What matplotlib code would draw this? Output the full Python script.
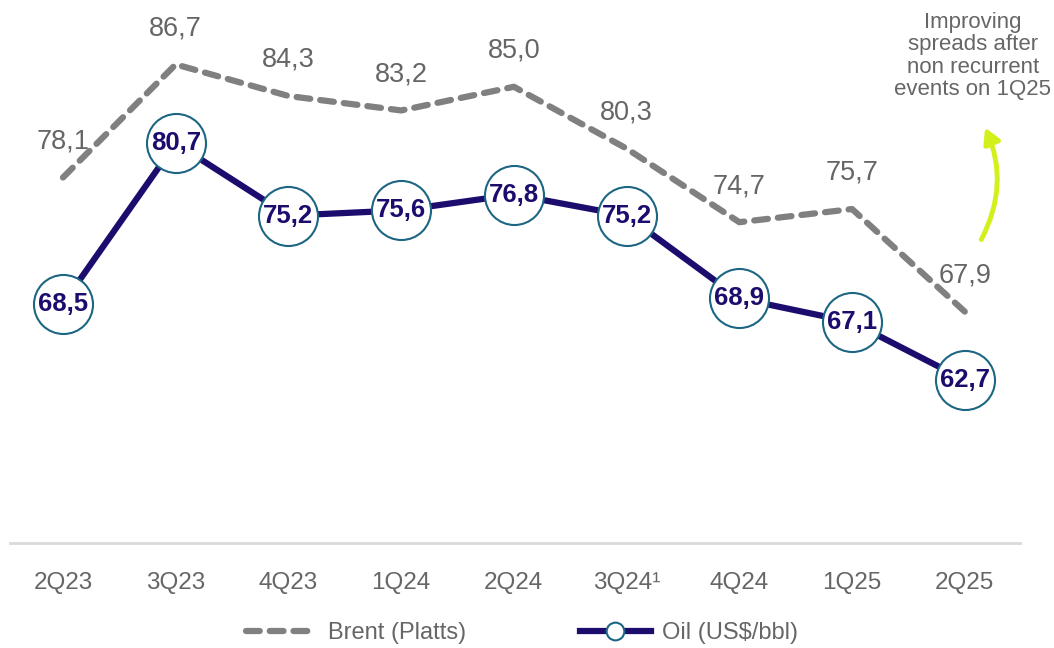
import matplotlib
matplotlib.use('Agg')
import matplotlib.pyplot as plt
from matplotlib.patches import FancyArrowPatch

# data
quarters = ['2Q23', '3Q23', '4Q23', '1Q24', '2Q24', '3Q24¹', '4Q24', '1Q25', '2Q25']
brent = [78.1, 86.7, 84.3, 83.2, 85.0, 80.3, 74.7, 75.7, 67.9]
oil = [68.5, 80.7, 75.2, 75.6, 76.8, 75.2, 68.9, 67.1, 62.7]
note = 'Improving\nspreads after\nnon recurrent\nevents on 1Q25'

plt.rcParams['font.family'] = ['Liberation Sans', 'DejaVu Sans']

NAVY = '#1b0c6e'
TEAL = '#1d6683'
GREY = '#808080'
TXT = '#666666'

fig = plt.figure(figsize=(10.54, 6.48), dpi=100)
ax = fig.add_axes([10 / 1054, 105 / 648, 1010 / 1054, 543 / 648])

x = list(range(len(quarters)))
ax.plot(x, brent, color=GREY, lw=4.5, dashes=(2.2, 1.6), dash_capstyle='round',
        label='Brent (Platts)', zorder=2)
ax.plot(x, oil, color=NAVY, lw=4.5, marker='o', markersize=42.5,
        markerfacecolor='white', markeredgecolor=TEAL, markeredgewidth=1.5,
        label='Oil (US$/bbl)', zorder=3)

for i, v in enumerate(brent):
    ax.annotate(f'{v:.1f}'.replace('.', ','), (i, v), xytext=(0, 26),
                textcoords='offset points', ha='center', va='center',
                fontsize=19.5, color=TXT, zorder=4)
for i, v in enumerate(oil):
    ax.text(i, v, f'{v:.1f}'.replace('.', ','), ha='center', va='center',
            fontsize=18.5, fontweight='bold', color=NAVY, zorder=5)

ax.set_xlim(-0.47, 8.49)
ax.set_ylim(50.3, 91.6)
ax.set_xticks(x)
ax.set_xticklabels(quarters, fontsize=17.5, color=TXT)
ax.tick_params(axis='x', length=0, pad=21)
ax.set_yticks([])
for s in ['top', 'right', 'left']:
    ax.spines[s].set_visible(False)
ax.spines['bottom'].set_color('#d9d9d9')
ax.spines['bottom'].set_linewidth(2)

# note and arrow
fig.text(973 / 1054, 1 - 56 / 648, note, ha='center', va='center', fontsize=16,
         color=TXT, linespacing=1.1)
arr = FancyArrowPatch((980, 242), (984, 125), transform=None,
                      connectionstyle='arc3,rad=0.25', arrowstyle='-|>,head_length=9,head_width=5',
                      color='#d4f01c', lw=3.5)
arr.set_transform(matplotlib.transforms.Affine2D().scale(1, -1).translate(0, 648))
fig.add_artist(arr)

leg = fig.legend(loc='center', bbox_to_anchor=(522 / 1054, 1 - 633 / 648), ncol=2,
                 frameon=False, fontsize=17, handlelength=3.0, columnspacing=4.8,
                 handletextpad=0.5, markerscale=0.3)
for t in leg.get_texts():
    t.set_color(TXT)

fig.savefig('out.png', dpi=100)
